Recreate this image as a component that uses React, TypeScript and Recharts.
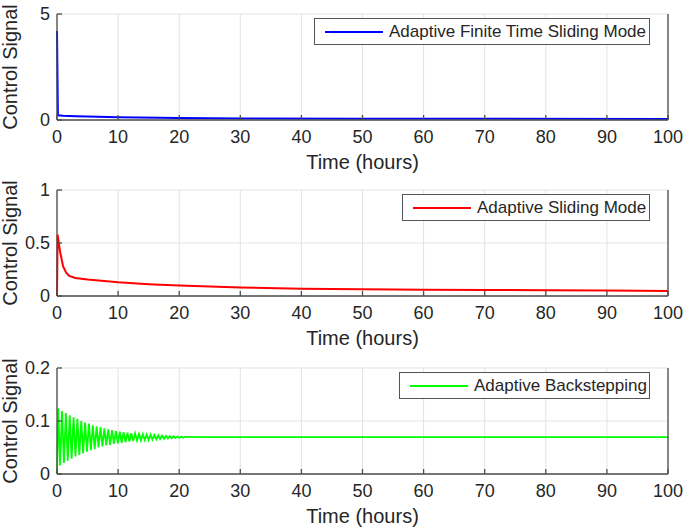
import React from 'react';
import { LineChart, Line, XAxis, YAxis, CartesianGrid } from 'recharts';

const xTicks = [0, 10, 20, 30, 40, 50, 60, 70, 80, 90, 100];

// Adaptive Finite Time Sliding Mode (blue)
const blueTime = [0, 0.15, 1, 3, 5, 10, 20, 30, 50, 70, 100];
const blueValue = [4.2, 0.22, 0.2, 0.18, 0.17, 0.13, 0.09, 0.07, 0.06, 0.055, 0.05];
const blueTicks = [0, 5];

// Adaptive Sliding Mode (red)
const redTime = [0, 0.1, 0.5, 1, 1.5, 2, 3, 5, 10, 15, 20, 30, 40, 50, 60, 70, 80, 90, 100];
const redValue = [0, 0.58, 0.42, 0.28, 0.22, 0.19, 0.17, 0.155, 0.13, 0.112, 0.1, 0.08, 0.068, 0.064, 0.06, 0.057, 0.054, 0.051, 0.048];
const redTicks = [0, 0.5, 1];

// Adaptive Backstepping (green)
const greenTime = [
  0, 0.2, 0.5, 0.82, 1.13, 1.45, 1.76, 2.08, 2.39, 2.71, 3.02, 3.34, 3.65, 3.97, 4.28, 4.6, 4.91,
  5.23, 5.54, 5.86, 6.17, 6.49, 6.8, 7.12, 7.43, 7.75, 8.06, 8.38, 8.69, 9.01, 9.32, 9.64, 9.95,
  10.27, 10.58, 10.9, 11.21, 11.53, 11.84, 12.16, 12.47, 12.79, 13.1, 13.42, 13.73, 14.05, 14.36,
  14.68, 14.99, 15.31, 15.62, 15.94, 16.25, 16.57, 16.88, 17.2, 17.51, 17.83, 18.14, 18.46, 18.77,
  19.09, 19.4, 19.72, 20.03, 20.35, 20.66, 20.98, 25, 40, 60, 80, 100,
];
const greenValue = [
  0, 0.124, 0.016, 0.119, 0.021, 0.115, 0.025, 0.111, 0.029, 0.107, 0.033, 0.104, 0.036, 0.1, 0.039, 0.097, 0.042,
  0.095, 0.045, 0.092, 0.047, 0.09, 0.05, 0.088, 0.052, 0.086, 0.054, 0.084, 0.055, 0.083, 0.057, 0.081, 0.058,
  0.08, 0.059, 0.079, 0.06, 0.078, 0.061, 0.077, 0.062, 0.0765, 0.063, 0.0755, 0.0635, 0.075, 0.064,
  0.0745, 0.0645, 0.074, 0.065, 0.0735, 0.0655, 0.073, 0.066, 0.0725, 0.0665, 0.072, 0.067, 0.0715, 0.0675,
  0.0712, 0.0678, 0.071, 0.068, 0.0705, 0.0685, 0.0702, 0.0695, 0.0695, 0.0695, 0.0695, 0.0695,
];
const greenTicks = [0, 0.1, 0.2];

const FONT = '"Liberation Sans", Arial, Helvetica, sans-serif';
const TEXT = '#262626';
const AXIS = '#4d4d4d';

const toRows = (t: number[], v: number[]) => t.map((x, i) => ({ t: x, v: v[i] }));

const Empty = () => <g />;

interface PanelProps {
  top: number;
  data: { t: number; v: number }[];
  color: string;
  yTicks: number[];
  label: string;
  legendLeft: number;
  lineWidth: number;
}

function Panel({ top, data, color, yTicks, label, legendLeft, lineWidth }: PanelProps) {
  const domain: [number, number] = [yTicks[0], yTicks[yTicks.length - 1]];
  return (
    <div style={{ position: 'absolute', left: 0, top, width: 685, height: 177 }}>
      <LineChart width={685} height={177} data={data} margin={{ top: 14, right: 0, bottom: 0, left: 0 }}>
        <CartesianGrid stroke="#e3e3e3" />
        <XAxis
          dataKey="t"
          type="number"
          domain={[0, 100]}
          ticks={xTicks}
          height={57}
          tickSize={-5}
          tickMargin={15}
          stroke={AXIS}
          strokeWidth={1.3}
          tick={{ fill: TEXT, fontSize: 18, fontFamily: FONT }}
          label={{ value: 'Time (hours)', position: 'insideBottom', offset: 8, fill: TEXT, fontSize: 20, fontFamily: FONT }}
        />
        <XAxis
          xAxisId="top"
          orientation="top"
          dataKey="t"
          type="number"
          domain={[0, 100]}
          ticks={xTicks}
          height={0}
          tickSize={-5}
          stroke={AXIS}
          strokeWidth={1.3}
          tick={Empty}
        />
        <YAxis
          type="number"
          domain={domain}
          ticks={yTicks}
          width={57}
          tickSize={-5}
          tickMargin={12}
          stroke={AXIS}
          strokeWidth={1.3}
          tick={{ fill: TEXT, fontSize: 18, fontFamily: FONT }}
          label={{
            value: 'Control Signal',
            angle: -90,
            position: 'insideLeft',
            offset: 10,
            fill: TEXT,
            fontSize: 20,
            fontFamily: FONT,
            style: { textAnchor: 'middle' },
          }}
        />
        <YAxis
          yAxisId="right"
          orientation="right"
          type="number"
          domain={domain}
          ticks={yTicks}
          width={17}
          tickSize={-5}
          stroke={AXIS}
          strokeWidth={1.3}
          tick={Empty}
        />
        <Line dataKey="v" stroke={color} strokeWidth={lineWidth} dot={false} isAnimationActive={false} />
      </LineChart>
      <div
        style={{
          position: 'absolute',
          left: legendLeft,
          top: 18,
          width: 650 - legendLeft,
          height: 27,
          boxSizing: 'border-box',
          border: '1.5px solid #555',
          background: '#fff',
          display: 'flex',
          alignItems: 'center',
          fontFamily: FONT,
          fontSize: 17,
          color: TEXT,
          whiteSpace: 'nowrap',
        }}
      >
        <div style={{ width: 58, height: 2, background: color, marginLeft: 10, marginRight: 6, flexShrink: 0 }} />
        <span>{label}</span>
      </div>
    </div>
  );
}

export default function App() {
  return (
    <div style={{ position: 'absolute', left: 0, top: 0, width: 685, height: 531, background: '#fff' }}>
      <Panel top={0} data={toRows(blueTime, blueValue)} color="#0000ff" yTicks={blueTicks} label="Adaptive Finite Time Sliding Mode" legendLeft={314} lineWidth={2} />
      <Panel top={176} data={toRows(redTime, redValue)} color="#ff0000" yTicks={redTicks} label="Adaptive Sliding Mode" legendLeft={402} lineWidth={2} />
      <Panel top={354} data={toRows(greenTime, greenValue)} color="#00ff00" yTicks={greenTicks} label="Adaptive Backstepping" legendLeft={399} lineWidth={1.8} />
    </div>
  );
}
